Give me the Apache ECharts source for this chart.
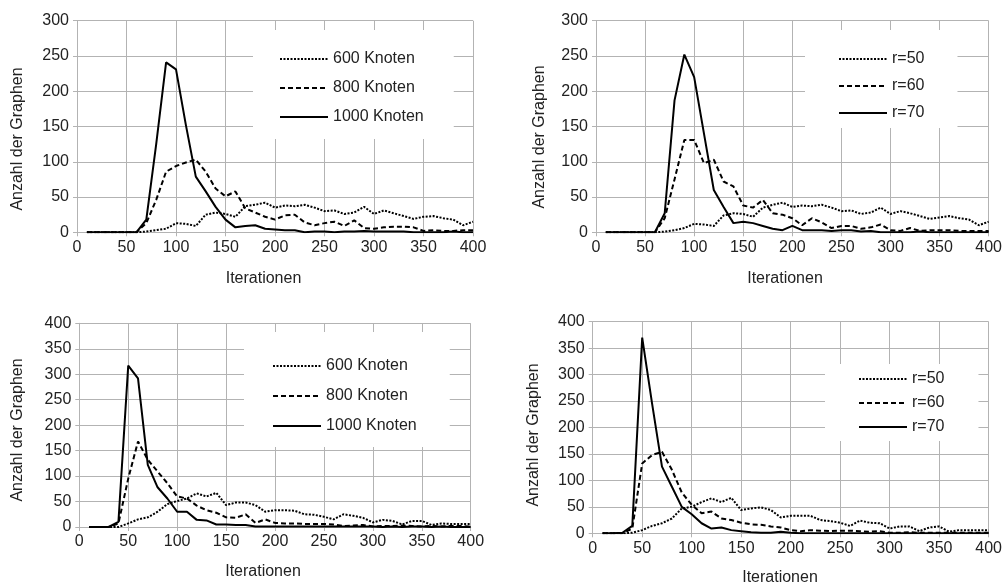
<!DOCTYPE html>
<html><head><meta charset="utf-8">
<script src="https://cdn.jsdelivr.net/npm/echarts@6/dist/echarts.min.js"></script>
<style>html,body{margin:0;padding:0;background:#fff}#c{width:1005px;height:585px}</style>
</head><body><div id="c"></div>
<script>
// x values (Iterationen)
const iterations = [10,20,30,40,50,60,70,80,90,100,110,120,130,140,150,160,170,180,190,200,
  210,220,230,240,250,260,270,280,290,300,310,320,330,340,350,360,370,380,390,400];
const xTicks = [0,50,100,150,200,250,300,350,400];

// Panel 1 (top left)
const p1Names = ['600 Knoten','800 Knoten','1000 Knoten'];
const p1_600 = [0,0,0,0,0,0,1,3,5,13, 12,9,25,28,26,22,37,39,42,35, 38,37,39,35,30,31,26,28,36,26, 31,27,23,19,22,23,20,18,10,15];
const p1_800 = [0,0,0,0,0,0,13,46,86,94, 99,103,86,62,51,58,34,28,22,18, 24,25,14,10,13,15,9,17,6,5, 7,8,8,7,2,3,2,2,3,3];
const p1_1000 = [0,0,0,0,0,0,18,125,241,231, 152,79,58,36,18,7,9,10,5,4, 3,3,0,1,1,0,1,1,2,1, 1,1,1,0,0,0,0,1,0,0];

// Panel 2 (top right)
const p2Names = ['r=50','r=60','r=70'];
const p2_50 = [0,0,0,0,0,0,1,3,6,12, 11,9,24,27,26,22,35,39,42,36, 38,37,39,35,30,31,26,28,35,26, 30,27,23,19,21,23,20,18,10,15];
const p2_60 = [0,0,0,0,0,0,20,75,131,131, 98,103,72,65,38,35,46,27,25,20, 10,20,14,6,9,9,5,7,11,3, 2,6,2,3,3,3,2,2,2,2];
const p2_70 = [0,0,0,0,0,0,27,187,252,220, 140,60,36,13,15,13,9,5,3,9, 3,3,3,2,3,3,1,2,0,0, 0,0,1,0,0,0,0,0,0,0];

// Panel 3 (bottom left)
const p3Names = ['600 Knoten','800 Knoten','1000 Knoten'];
const p3_600 = [0,0,0,0,7,15,19,30,45,51, 56,66,60,67,43,48,48,43,30,33, 33,32,25,24,20,15,25,22,18,9, 14,12,5,12,12,4,7,6,6,6];
const p3_800 = [0,0,0,7,95,168,132,109,86,60, 56,42,33,28,19,18,25,8,15,8, 7,7,6,6,6,5,2,3,4,1, 2,2,3,2,1,2,1,2,2,1];
const p3_1000 = [0,0,0,10,317,292,122,78,56,30, 30,14,13,5,5,4,4,1,1,1, 1,1,1,1,1,1,1,1,1,1, 0,1,0,1,1,0,1,0,0,0];

// Panel 4 (bottom right)
const p4Names = ['r=50','r=60','r=70'];
const p4_50 = [0,0,0,1,6,14,19,28,47,50, 59,66,59,67,44,47,49,44,30,33, 33,33,25,23,20,14,24,20,19,9, 13,13,4,11,13,3,6,6,6,6];
const p4_60 = [0,0,0,9,132,148,154,120,77,54, 38,41,28,25,20,17,16,13,11,6, 4,6,5,4,5,5,4,3,4,1, 1,2,1,1,1,1,1,1,1,1];
const p4_70 = [0,0,1,14,370,245,126,88,50,36, 19,9,11,6,4,2,1,1,3,1, 0,0,0,0,0,0,0,0,0,0, 0,0,0,0,0,0,0,0,0,0];

const yTitle = 'Anzahl der Graphen';
const xTitle = 'Iterationen';

const FONT = 'Liberation Sans, Arial, sans-serif';
const TXT = '#222';
const GRID = '#b3b3b3';
const styles = [
  {type:[2,1.5], width:2, color:'#000'},
  {type:[5,3], width:2, color:'#000'},
  {type:'solid', width:2, color:'#000'}
];
function pts(vals){ return iterations.map((x,i)=>[x, vals[i]]); }

const grids = [
  {left:77, top:20.7, width:396, height:211.6},
  {left:596, top:20.7, width:396.7, height:211.6},
  {left:79.3, top:323.3, width:391.4, height:203.7},
  {left:592.7, top:321.7, width:396.6, height:211.6}
];
const yMax = [300,300,400,400];

const xAxis = grids.map((g,i)=>({
  type:'value', gridIndex:i, min:0, max:400, interval:50,
  axisLine:{show:true, lineStyle:{color:GRID}},
  axisTick:{show:true, length:4, lineStyle:{color:GRID}},
  splitLine:{show:true, lineStyle:{color:GRID}},
  axisLabel:{color:TXT, fontFamily:FONT, fontSize:16, margin:7}
}));
const yAxis = grids.map((g,i)=>({
  type:'value', gridIndex:i, min:0, max:yMax[i], interval:50,
  axisLine:{show:true, lineStyle:{color:GRID}},
  axisTick:{show:true, length:4, lineStyle:{color:GRID}},
  splitLine:{show:true, lineStyle:{color:GRID}},
  axisLabel:{color:TXT, fontFamily:FONT, fontSize:16, margin:8}
}));

const panels = [
  {names:p1Names, data:[p1_600,p1_800,p1_1000]},
  {names:p2Names, data:[p2_50,p2_60,p2_70]},
  {names:p3Names, data:[p3_600,p3_800,p3_1000]},
  {names:p4Names, data:[p4_50,p4_60,p4_70]}
];
const series = [];
panels.forEach((p,pi)=>{
  p.data.forEach((d,k)=>{
    series.push({
      type:'line', name:p.names[k], xAxisIndex:pi, yAxisIndex:pi,
      data:pts(d), symbol:'none', showSymbol:false, animation:false,
      lineStyle:styles[k], itemStyle:{color:'#000'}
    });
  });
});

const legendPos = [
  {left:253, top:30, padding:[21,30,14,26], itemGap:13},
  {left:805, top:30, padding:[21,33,7,33], itemGap:11},
  {left:244, top:332, padding:[26,33,13,28], itemGap:14},
  {left:825, top:364, padding:[7,34,6,33], itemGap:8}
];
const legend = panels.map((p,i)=>Object.assign({
  orient:'vertical', data:p.names, backgroundColor:'#fff',
  itemWidth:48, itemHeight:14, selectedMode:false,
  itemStyle:{color:'rgba(0,0,0,0)', borderWidth:0, opacity:0},
  textStyle:{color:TXT, fontFamily:FONT, fontSize:16}
}, legendPos[i]));

const yTitlePos = [[18,139],[540,137],[18,430],[533.5,435]];
const xTitlePos = [[263.5,279],[785,279],[263,572],[780,578]];
const graphic = [];
yTitlePos.forEach(([x,y])=>graphic.push({type:'text', x:x, y:y, rotation:Math.PI/2,
  style:{text:yTitle, fill:TXT, font:'16px '+FONT, textAlign:'center', textVerticalAlign:'middle'}}));
xTitlePos.forEach(([x,y])=>graphic.push({type:'text', x:x, y:y,
  style:{text:xTitle, fill:TXT, font:'16px '+FONT, textAlign:'center', textVerticalAlign:'middle'}}));

const chart = echarts.init(document.getElementById('c'), null, {renderer:'canvas'});
chart.setOption({
  animation:false, backgroundColor:'#fff',
  grid:grids, xAxis:xAxis, yAxis:yAxis, series:series, legend:legend, graphic:graphic
});
</script></body></html>
